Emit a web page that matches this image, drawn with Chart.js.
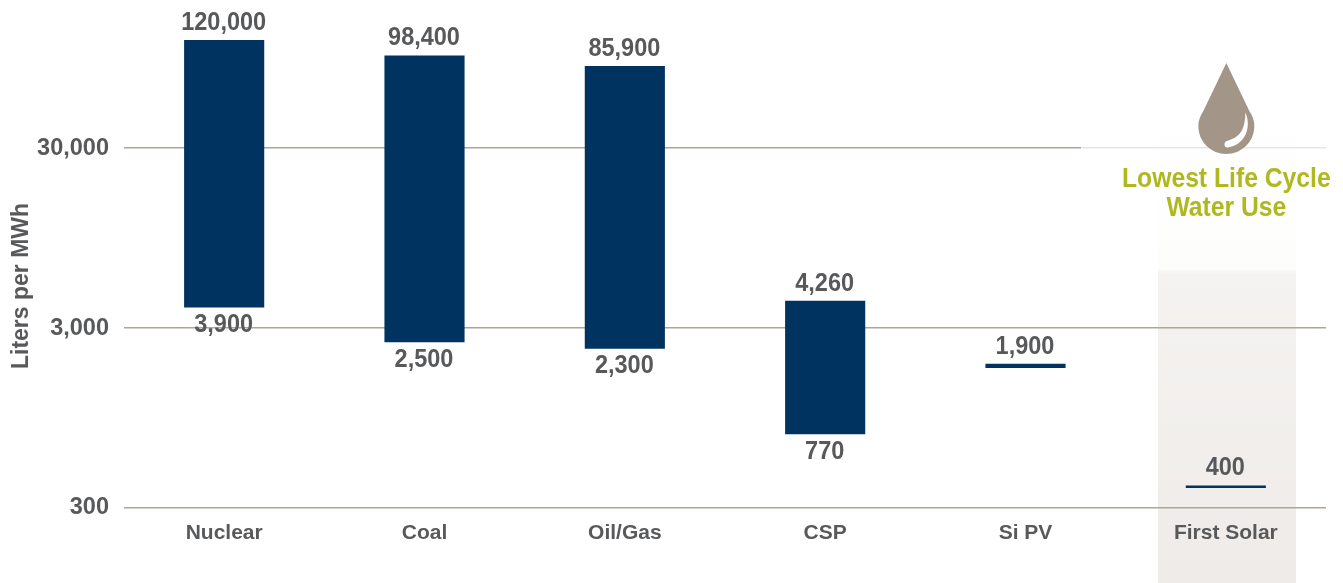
<!DOCTYPE html>
<html>
<head>
<meta charset="utf-8">
<style>
  html, body { margin: 0; padding: 0; background: #fff; }
  #wrap { width: 1343px; height: 583px; position: relative; }
</style>
<script src="https://cdn.jsdelivr.net/npm/chart.js@4"></script>
</head>
<body>
<div id="wrap"><canvas id="water-chart"></canvas></div>
<script>
const categories = ['Nuclear', 'Coal', 'Oil/Gas', 'CSP', 'Si PV', 'First Solar'];
const highValues = [120000, 98400, 85900, 4260, 1900, 400];
const lowValues = [3900, 2500, 2300, 770, 1800, 387];
const lowLabels = [3900, 2500, 2300, 770, null, null];
const yTicks = [300, 3000, 30000];
const yMin = 300;
const yMax = 200000;

const FONT = '"Liberation Sans", sans-serif';
const GREY = '#58595b';
const NAVY = '#00335f';

function fmt(v) {
  return v.toLocaleString('en-US');
}

// Text squeezed horizontally, the original face is a condensed one
function narrowText(ctx, text, x, y, sx) {
  ctx.save();
  ctx.translate(x, y);
  ctx.scale(sx, 1);
  ctx.fillText(text, 0, 0);
  ctx.restore();
}

// Draws the band behind First Solar before the grid goes on top of it
const bandPlugin = {
  id: 'band',
  beforeDraw(chart) {
    const ctx = chart.ctx;
    const cx = chart.scales.x.getPixelForValue(5);
    const g = ctx.createLinearGradient(0, 100, 0, 583);
    g.addColorStop(0, 'rgba(255,255,255,1)');
    g.addColorStop(0.35, '#fdfdfc');
    g.addColorStop(0.36, '#f5f3f1');
    g.addColorStop(1, '#eeebe8');
    ctx.save();
    ctx.fillStyle = g;
    ctx.fillRect(Math.round(cx) - 68, 100, 138, 483);
    ctx.restore();
  },
  beforeDatasetsDraw(chart) {
    // the top grid line fades out towards the callout
    const ctx = chart.ctx;
    const y = chart.scales.y.getPixelForValue(30000);
    ctx.save();
    ctx.fillStyle = 'rgba(255,255,255,0.72)';
    ctx.fillRect(1081, y - 2, chart.chartArea.right - 1081, 4);
    ctx.restore();
  }
};

// Value labels, axis title, drop and callout
const labelPlugin = {
  id: 'labels',
  afterDatasetsDraw(chart) {
    const ctx = chart.ctx;
    const xs = chart.scales.x;
    const ys = chart.scales.y;
    ctx.save();
    ctx.font = 'bold 25px ' + FONT;
    ctx.fillStyle = GREY;
    ctx.textAlign = 'center';
    ctx.textBaseline = 'middle';
    categories.forEach((c, i) => {
      const x = xs.getPixelForValue(i);
      narrowText(ctx, fmt(highValues[i]), x - 0.5, ys.getPixelForValue(highValues[i]) - 17, 0.94);
      if (lowLabels[i] !== null) {
        narrowText(ctx, fmt(lowLabels[i]), x - 0.5, ys.getPixelForValue(lowValues[i]) + 17.5, 0.94);
      }
    });

    // axis title
    ctx.save();
    ctx.translate(22, 286);
    ctx.rotate(-Math.PI / 2);
    ctx.font = 'bold 23px ' + FONT;
    ctx.fillText('Liters per MWh', 0, 0);
    ctx.restore();

    // drop
    const cx = xs.getPixelForValue(5) + 0.5;
    ctx.fillStyle = '#a39689';
    ctx.beginPath();
    ctx.moveTo(cx, 63);
    ctx.lineTo(cx + 23, 111);
    ctx.bezierCurveTo(cx + 26, 116, cx + 28, 120, cx + 28, 126);
    ctx.bezierCurveTo(cx + 28, 142, cx + 15, 154, cx, 154);
    ctx.bezierCurveTo(cx - 15, 154, cx - 28, 142, cx - 28, 126);
    ctx.bezierCurveTo(cx - 28, 120, cx - 26, 116, cx - 23, 111);
    ctx.closePath();
    ctx.fill();
    // highlight
    ctx.fillStyle = '#fff';
    ctx.beginPath();
    ctx.moveTo(cx + 19, 112.5);
    ctx.bezierCurveTo(cx + 26, 128, cx + 18, 145, cx + 1.5, 147.5);
    ctx.bezierCurveTo(cx - 2.5, 148, cx - 3, 142, cx + 0.5, 141);
    ctx.bezierCurveTo(cx + 10, 138, cx + 19, 134, cx + 19, 112.5);
    ctx.fill();

    // callout
    ctx.fillStyle = '#afb81e';
    ctx.font = 'bold 27px ' + FONT;
    narrowText(ctx, 'Lowest Life Cycle', cx, 180, 0.915);
    narrowText(ctx, 'Water Use', cx, 209, 0.915);
    ctx.restore();
  }
};

Chart.defaults.font.family = FONT;

new Chart(document.getElementById('water-chart').getContext('2d'), {
  type: 'bar',
  data: {
    labels: categories,
    datasets: [{
      data: categories.map((c, i) => [lowValues[i], highValues[i]]),
      backgroundColor: NAVY,
      borderWidth: 0,
      borderSkipped: false,
      barPercentage: 0.4,
      categoryPercentage: 1
    }]
  },
  options: {
    responsive: true,
    maintainAspectRatio: false,
    animation: false,
    layout: { padding: { top: 0, right: 17, bottom: 0, left: 0 } },
    plugins: {
      legend: { display: false },
      tooltip: { enabled: false }
    },
    scales: {
      x: {
        grid: { display: false },
        border: { display: false },
        afterFit(scale) { scale.height = 75; },
        ticks: {
          color: GREY,
          padding: 5,
          maxRotation: 0,
          autoSkip: false,
          font: { size: 21, weight: 'bold' }
        }
      },
      y: {
        type: 'logarithmic',
        min: yMin,
        max: yMax,
        afterFit(scale) {
          scale.width = 124;
          scale.paddingTop = 0;
          scale.paddingBottom = 0;
        },
        afterBuildTicks(scale) { scale.ticks = yTicks.map(v => ({ value: v })); },
        grid: { color: '#aea498', lineWidth: 1.5, drawTicks: false },
        border: { display: false },
        ticks: {
          color: GREY,
          padding: 15,
          font: { size: 23.5, weight: 'bold' },
          callback: v => fmt(v)
        }
      }
    }
  },
  plugins: [bandPlugin, labelPlugin]
});
</script>
</body>
</html>
